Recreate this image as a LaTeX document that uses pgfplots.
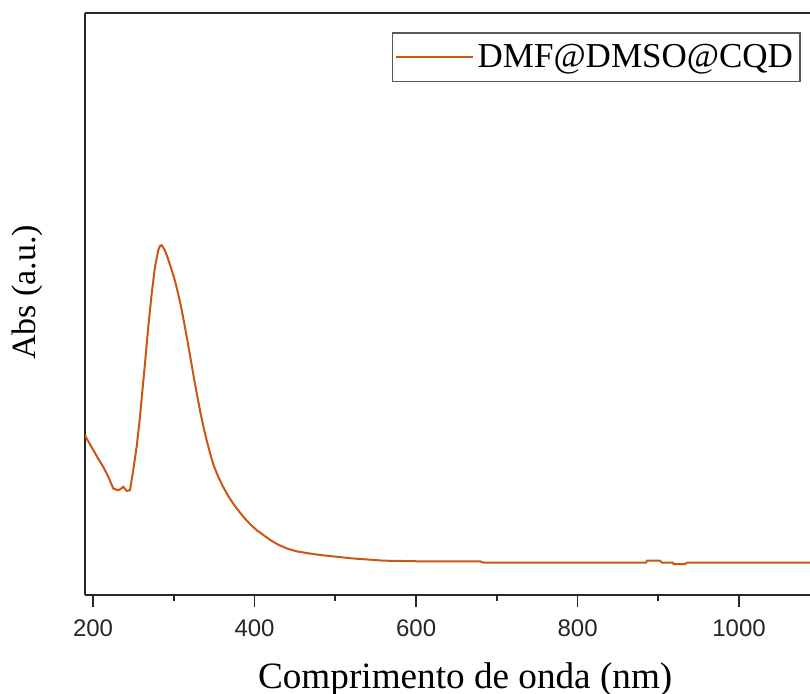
\documentclass[border=0pt]{standalone}
\usepackage{pgfplots}
\pgfplotsset{compat=1.18}
\usepackage{fontspec}
\setmainfont{Liberation Serif}
\newfontfamily\arialfont{Liberation Sans}
\definecolor{curve}{RGB}{204,85,17}
\begin{document}
\begin{tikzpicture}
\begin{axis}[
  at={(0,0)}, anchor=south west,
  scale only axis, width=364.2pt, height=291pt,
  xmin=190, xmax=1092, ymin=0, ymax=1,
  axis x line=box, axis y line=left,
  axis line style={-, line width=1.2pt, black!85},
  xtick={200,400,600,800,1000}, minor xtick={300,500,700,900},
  xtick pos=left, tick align=outside,
  major tick length=6pt, minor tick length=3pt,
  every tick/.style={black!85, line width=0.9pt},
  ytick=\empty,
  /pgf/number format/assume math mode=true,
  /pgf/number format/1000 sep={},
  xticklabel style={font=\arialfont\fontsize{12}{13}\selectfont, text=black!85, yshift=-3pt},
  xlabel={Comprimento de onda (nm)}, ylabel={Abs (a.u.)},
  xlabel style={at={(axis description cs:0.522,-0.1598)}, anchor=base, font=\fontsize{18.6}{20}\selectfont},
  ylabel style={at={(axis description cs:-0.0686,0.52)}, anchor=base, font=\fontsize{17}{20}\selectfont},
  legend style={at={(0.9826,0.9668)}, anchor=north east, draw=black!65, line width=0.7pt,
    font=\fontsize{17.5}{19}\selectfont, inner xsep=1.5pt, inner ysep=3.5pt, row sep=0pt},
  legend cell align=left,
  legend image code/.code={\draw[#1, line width=0.8pt] (0cm,0cm) -- (1.35cm,0cm);},
]
\addplot[curve, line width=1pt] coordinates {
(190,0.275) (192,0.269) (200.3,0.249) (206,0.235) (212.7,0.220) (218.9,0.203)
(225,0.183) (231.2,0.180) (234,0.182) (237.4,0.186) (241.6,0.179) (245.7,0.180)
(249.8,0.215) (254,0.255) (258,0.305) (261,0.350) (264.3,0.398) (268.4,0.461)
(272.6,0.518) (276.7,0.564) (280.8,0.593) (283,0.600) (285,0.601)
(289,0.592) (293,0.577) (297,0.560) (301,0.542) (305,0.520) (309,0.495)
(313,0.466) (317,0.436) (321,0.404) (325,0.372) (329,0.342) (333,0.313)
(337,0.287) (341,0.264) (345,0.243) (349,0.224) (355,0.203) (361,0.186)
(367,0.171) (373,0.158) (380,0.145) (387,0.133) (395,0.121) (403,0.111)
(411,0.103) (420,0.094) (430,0.086) (440,0.080) (452,0.075) (465,0.072)
(480,0.069) (500,0.066) (520,0.063) (540,0.061) (560,0.059) (600,0.058)
(679.2,0.058) (683.3,0.0555)
(884.7,0.0555) (886,0.059) (902,0.059) (904.4,0.0555) (918,0.0555) (919,0.053)
(933,0.053) (935.4,0.0555) (1092,0.0555)
};
\addlegendentry{DMF@DMSO@CQD}
\end{axis}
\pgfresetboundingbox
\useasboundingbox (-42.5pt,-49pt) rectangle (362.5pt,297.5pt);
\end{tikzpicture}
\end{document}
